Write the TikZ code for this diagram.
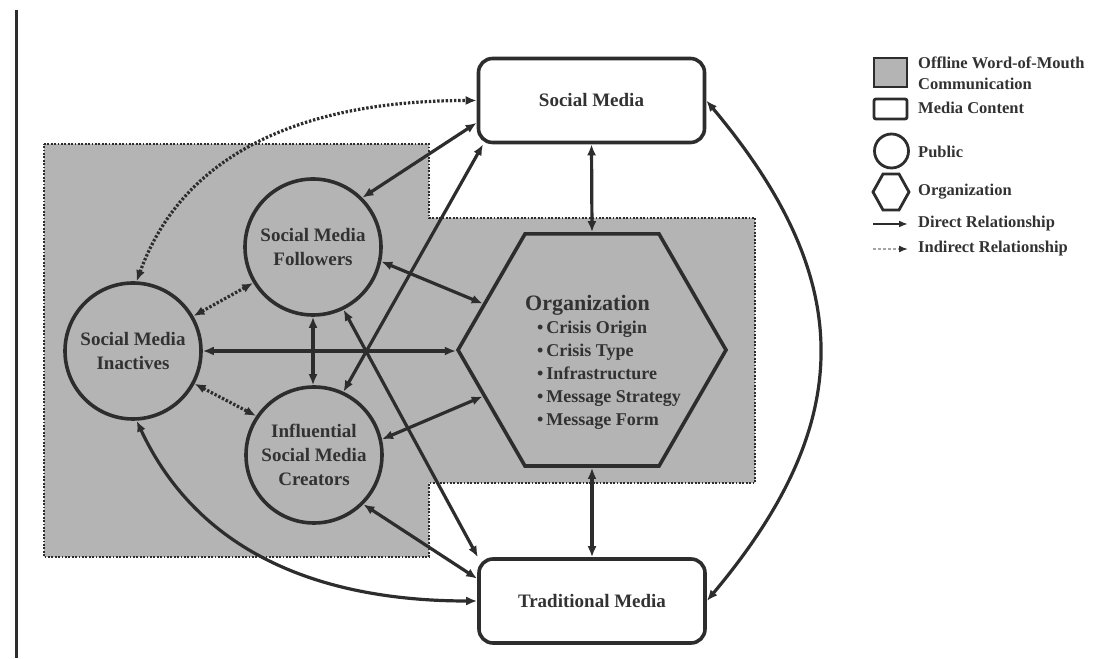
\documentclass[tikz,border=0pt]{standalone}
\usepackage{fontspec}
\setmainfont{Liberation Serif}
\usetikzlibrary{shapes.geometric,arrows.meta}
\definecolor{ink}{RGB}{45,45,45}
\definecolor{wom}{RGB}{180,180,180}
\definecolor{txt}{RGB}{50,50,50}
\begin{document}
\begin{tikzpicture}[x=1pt,y=1pt,
  every node/.style={text=txt},
  public/.style={circle, draw=ink, line width=3.6pt, minimum size=136pt, inner sep=0pt,
    align=center, font=\bfseries\fontsize{19}{24}\selectfont},
  media/.style={rectangle, rounded corners=14pt, draw=ink, line width=3.6pt, fill=white,
    minimum width=226pt, minimum height=84pt, font=\bfseries\fontsize{19}{24}\selectfont},
  org/.style={regular polygon, regular polygon sides=6, draw=ink, line width=3.6pt,
    minimum size=268pt, inner sep=0pt},
  rel/.style={draw=ink, line width=3.2pt,
    {Latex[length=11pt,width=9pt]}-{Latex[length=11pt,width=9pt]}},
  ind/.style={rel, dash pattern=on 2.4pt off 1.8pt},
  legtext/.style={anchor=west, align=left, inner sep=0pt,
    font=\bfseries\fontsize{16.5}{21}\selectfont},
  keyline/.style={line width=2.8pt},
]
\useasboundingbox (0,0) rectangle (1110,658);

% page rule on the left
\draw[ink, line width=3pt] (16,648) -- (16,0);

% offline word-of-mouth area
\fill[wom] (44,514) -- (429,514) -- (429,440) -- (755,440) -- (755,175)
  -- (429,175) -- (429,101) -- (44,101) -- cycle;
\draw[ink, line width=2.4pt, dash pattern=on 1.8pt off 1.6pt]
  (44,514) -- (429,514) -- (429,440) -- (755,440) -- (755,175)
  -- (429,175) -- (429,101) -- (44,101) -- cycle;

% media content
\node[media] (sm) at (591.5,557.5) {Social Media};
\node[media] (tm) at (592,57) {Traditional Media};

% organization
\node[org] (hex) at (592,308) {};
\node[anchor=north west, inner sep=0pt, font=\bfseries\fontsize{18}{23}\selectfont]
  (orgtxt) at (525,364) {%
  \begin{tabular}{@{}l@{}}
  {\fontsize{22}{24}\selectfont Organization}\\
  \hspace*{12pt}\textbullet\,Crisis Origin\\
  \hspace*{12pt}\textbullet\,Crisis Type\\
  \hspace*{12pt}\textbullet\,Infrastructure\\
  \hspace*{12pt}\textbullet\,Message Strategy\\
  \hspace*{12pt}\textbullet\,Message Form
  \end{tabular}};

% publics
\node[public] (ina) at (133,307) {Social Media\\Inactives};
\node[public] (fol) at (313,411) {Social Media\\Followers};
\node[public] (cre) at (314,203) {Influential\\Social Media\\Creators};

% relationships
\draw[ind] (ina.87) to[out=70,in=180] (sm.west);
\draw[rel] (fol.45) -- (sm.191);
\draw[rel] (cre.65) -- (sm.202);
\draw[rel] (fol.-12) -- (hex.157);
\draw[rel] (ina.east) -- (ina.east -| hex.180);
\draw[rel] (cre.13) -- (hex.203);
\draw[rel] (fol.south) -- (fol.south |- cre.north);
\draw[ind] (fol.211) -- (ina.30);
\draw[ind] (ina.-28) -- (cre.146);
\draw[rel] (fol.-64) -- (tm.159);
\draw[rel] (cre.-45) -- (tm.169);
\draw[rel] (ina.-87) to[out=-65,in=180] (tm.west);
\draw[rel] (sm.east) to[out=-50,in=50,looseness=1.2] (tm.east);
\draw[rel] (hex.90) -- (sm.south);
\draw[rel] (hex.270) -- (tm.north);

% key
\node[rectangle, draw=ink, line width=2.8pt, fill=wom, minimum width=33pt,
  minimum height=29pt, inner sep=0pt] (kwom) at (890.5,585.5) {};
\node[legtext] (kwomt) at (918,585) {Offline Word-of-Mouth\\Communication};
\node[rectangle, draw=ink, line width=2.8pt, fill=white, rounded corners=2pt,
  minimum width=33pt, minimum height=20pt, inner sep=0pt] (kmed) at (890.5,549) {};
\node[legtext] (kmedt) at (918,550) {Media Content};
\node[circle, draw=ink, line width=2.8pt, minimum size=34pt, inner sep=0pt]
  (kpub) at (891.5,507) {};
\node[legtext] (kpubt) at (918,506) {Public};
\draw[ink, keyline] (873,466) -- (883,484) -- (899,484) -- (909,466)
  -- (899,448) -- (883,448) -- cycle;
\node[legtext] (korgt) at (918,466) {Organization};
\coordinate (kd1) at (873,434);
\coordinate (kd2) at (908,434);
\draw[draw=ink, keyline, -{Latex[length=9pt,width=7pt]}] (kd1) -- (kd2);
\node[legtext] (kdt) at (918,434) {Direct Relationship};
\coordinate (ki1) at (873,409);
\coordinate (ki2) at (908,409);
\draw[draw=black!35, line width=1.6pt, dash pattern=on 3pt off 2pt,
  -{Latex[length=9pt,width=7pt,color=ink]}] (ki1) -- (ki2);
\node[legtext] (kit) at (918,409) {Indirect Relationship};
\end{tikzpicture}
\end{document}
